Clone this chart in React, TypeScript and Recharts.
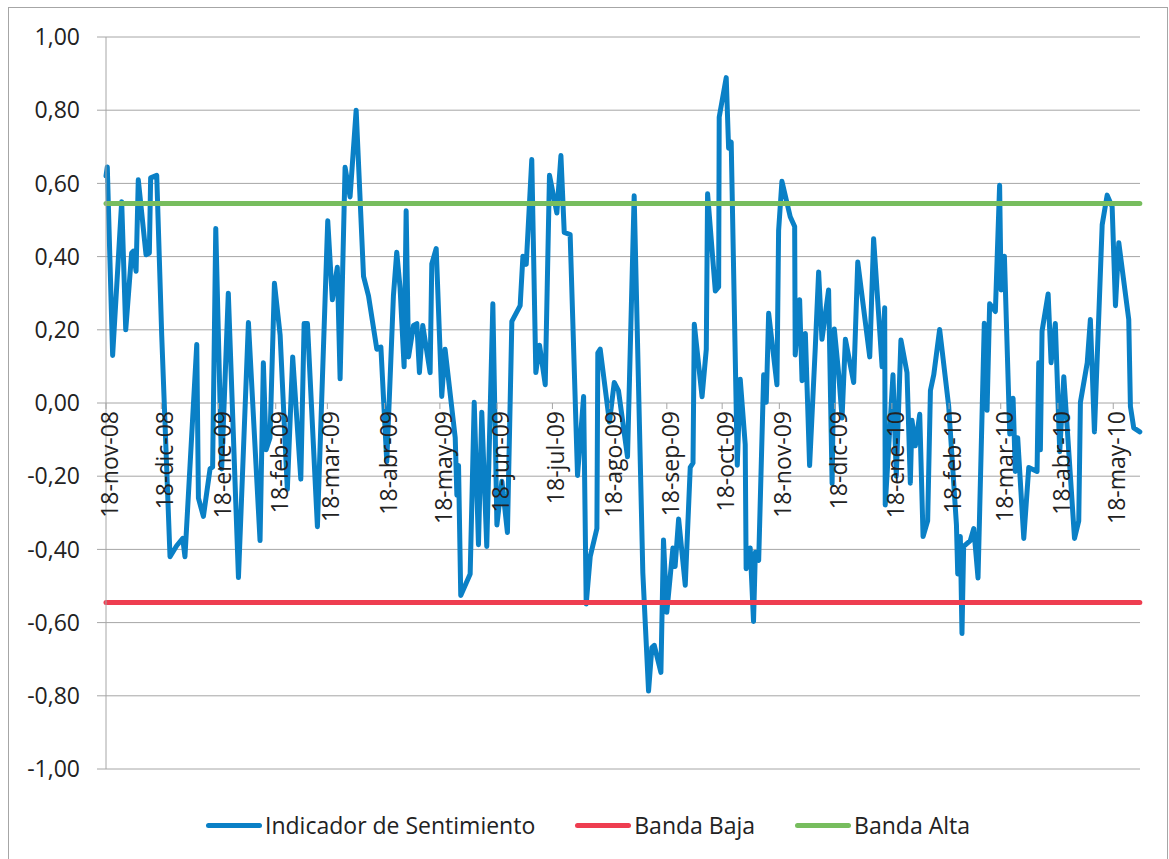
import React from 'react';
import { LineChart, Line, XAxis, YAxis, CartesianGrid, Legend, ReferenceDot } from 'recharts';

// ---- Data ----
const sentimentDays = [
  0, 0.7, 3.6, 8.5, 10.7, 13.9, 14.8, 16.3, 17.5, 21.7, 23.5, 24.2, 27.5, 30.2, 34.7, 38.3, 41.6, 42.8,
  49.2, 50.1, 52.8, 56.4, 57.8, 59.5, 62.7, 66.3, 71.8, 77.2, 83.5, 85.3, 86.8, 88.9, 91.3, 94.4, 98.3,
  101.2, 105.6, 107.4, 109.2, 114.6, 120.2, 122.7, 125.4, 126.9, 129.6, 132.3, 135.6, 139.6, 142.3, 146.8,
  149.0, 152.2, 155.8, 157.6, 159.4, 161.6, 162.7, 164.0, 166.7, 168.5, 169.9, 171.7, 175.7, 176.6, 179.0,
  182.0, 183.8, 189.3, 190.2, 191.1, 192.3, 197.4, 199.6, 201.9, 203.7, 206.4, 209.7, 211.9, 214.6, 217.6,
  220.0, 224.5, 226.0, 227.8, 230.8, 233.0, 235.0, 238.1, 240.4, 244.4, 246.6, 248.4, 251.6, 255.6, 258.9,
  260.3, 262.5, 266.1, 266.6, 267.9, 272.9, 275.5, 277.8, 282.7, 286.3, 291.0, 294.1, 295.9, 297.2, 300.8,
  302.2, 304.0, 307.3, 308.5, 310.4, 314.0, 316.7, 318.2, 318.9, 323.1, 325.4, 326.1, 330.3, 332.1, 332.4,
  336.2, 337.5, 338.9, 342.2, 343.8, 346.5, 347.0, 349.2, 351.0, 352.0, 353.8, 356.5, 357.9, 359.2, 363.7,
  364.6, 366.4, 370.9, 373.3, 373.6, 376.0, 377.3, 379.1, 381.4, 384.5, 386.3, 388.1, 391.7, 393.6, 394.8,
  397.2, 399.0, 400.8, 405.3, 407.5, 414.0, 416.1, 420.7, 422.1, 422.4, 426.6, 428.4, 430.9, 434.2, 436.0,
  436.9, 438.7, 441.1, 442.9, 445.4, 446.9, 448.7, 451.9, 456.8, 461.0, 461.7, 463.1, 464.0, 464.9, 468.5,
  470.4, 472.7, 476.1, 477.6, 479.0, 482.1, 484.4, 485.2, 487.0, 489.9, 491.7, 492.9, 494.2, 497.5, 500.2,
  504.7, 505.6, 506.5, 507.4, 510.7, 512.3, 514.6, 517.0, 519.2, 525.0, 527.3, 528.2, 531.9, 533.6, 535.8,
  540.0, 542.7, 545.4, 547.2, 549.0, 554.4, 555.3, 557.1, 560.4,
];

const sentimentValues = [
  0.62, 0.645, 0.13, 0.55, 0.2, 0.41, 0.415, 0.36, 0.61, 0.405, 0.41, 0.615, 0.622, 0.185, -0.42, -0.39, -0.37, -0.42,
  0.16, -0.26, -0.31, -0.18, -0.175, 0.477, -0.18, 0.3, -0.477, 0.22, -0.376, 0.11, -0.128, -0.095, 0.327, 0.185, -0.236,
  0.126, -0.208, 0.217, 0.217, -0.338, 0.498, 0.282, 0.371, 0.066, 0.644, 0.563, 0.8, 0.346, 0.293, 0.147,
  0.153, -0.16, 0.293, 0.412, 0.315, 0.099, 0.525, 0.126, 0.212, 0.217, 0.083, 0.212, 0.083, 0.38, 0.422,
  0.018, 0.147, -0.095, -0.252, -0.171, -0.526, -0.467, 0.002, -0.387, -0.025, -0.392, 0.271, -0.333, -0.214, -0.354,
  0.223, 0.266, 0.401, 0.379, 0.665, 0.083, 0.158, 0.05, 0.622, 0.519, 0.676, 0.466, 0.46, -0.198, 0.018,
  -0.549, -0.419, -0.343, 0.137, 0.147, -0.052, 0.056, 0.034, -0.147, 0.566, -0.464, -0.787, -0.668, -0.662, -0.736,
  -0.374, -0.572, -0.396, -0.447, -0.317, -0.498, -0.176, -0.164, 0.215, 0.017, 0.147, 0.572, 0.306, 0.317, 0.781,
  0.889, 0.696, 0.713, -0.17, 0.065, -0.113, -0.453, -0.396, -0.597, -0.408, -0.43, 0.077, 0.002, 0.245, 0.05,
  0.471, 0.606, 0.509, 0.482, 0.131, 0.282, 0.061, 0.19, -0.171, 0.153, 0.358, 0.174, 0.309, -0.22, 0.202,
  0.077, -0.041, 0.174, 0.056, 0.385, 0.126, 0.449, 0.099, 0.26, -0.279, 0.077, -0.2, 0.172, 0.083, -0.219,
  -0.047, -0.117, -0.031, -0.365, -0.322, 0.034, 0.077, 0.201, -0.009, -0.333, -0.467, -0.365, -0.63, -0.392, -0.376,
  -0.343, -0.478, 0.218, -0.02, 0.271, 0.25, 0.595, 0.309, 0.401, -0.085, 0.013, -0.187, -0.095, -0.37, -0.176,
  -0.187, 0.11, -0.128, 0.196, 0.298, 0.11, 0.217, -0.133, 0.072, -0.37, -0.322, 0.002, 0.11, 0.228, -0.079,
  0.487, 0.568, 0.536, 0.266, 0.438, 0.228, -0.009, -0.068, -0.079,
];

const lowBand = -0.545;
const highBand = 0.545;

const tickDays = [0, 30, 61, 92, 120, 151, 181, 212, 242, 273, 304, 334, 365, 395, 426, 457, 485, 516, 546];
const tickLabels = [
  '18-nov-08', '18-dic-08', '18-ene-09', '18-feb-09', '18-mar-09', '18-abr-09', '18-may-09', '18-jun-09',
  '18-jul-09', '18-ago-09', '18-sep-09', '18-oct-09', '18-nov-09', '18-dic-09', '18-ene-10', '18-feb-10',
  '18-mar-10', '18-abr-10', '18-may-10',
];

const yTicks = [-1, -0.8, -0.6, -0.4, -0.2, 0, 0.2, 0.4, 0.6, 0.8, 1];

const seriesNames = ['Indicador de Sentimiento', 'Banda Baja', 'Banda Alta'];
const seriesColors = ['#0a80c6', '#ee3d50', '#77bd5e'];

const data = sentimentDays.map((d, i) => ({
  day: d,
  ind: sentimentValues[i],
  low: lowBand,
  high: highBand,
}));

const FONT = '"Open Sans", sans-serif';
const TEXT = '#222222';
const GRID = '#a6a6a6';

const makeTickShape = (label: string) => (props: any) => {
  const { cx, cy } = props;
  return (
    <g>
      <line x1={cx} y1={cy} x2={cx} y2={cy + 6} stroke={GRID} strokeWidth={1} />
      <text
        x={0}
        y={0}
        transform={`translate(${cx + 12}, ${cy + 8}) rotate(-90)`}
        textAnchor="end"
        fontFamily={FONT}
        fontSize={23}
        fill={TEXT}
      >
        {label}
      </text>
    </g>
  );
};

const LegendContent = (props: any) => {
  const payload = [...(props.payload || [])].sort(
    (a: any, b: any) => seriesNames.indexOf(a.value) - seriesNames.indexOf(b.value)
  );
  return (
    <div
      style={{
        display: 'flex',
        justifyContent: 'center',
        alignItems: 'center',
        height: 30,
        fontFamily: FONT,
        fontSize: 23,
        color: TEXT,
        gap: 40,
      }}
    >
      {payload.map((entry: any) => (
        <div key={entry.value} style={{ display: 'flex', alignItems: 'center' }}>
          <div
            style={{
              width: 56,
              height: 5,
              borderRadius: 3,
              background: entry.color,
              marginRight: 3,
            }}
          />
          <span style={{ lineHeight: '30px', whiteSpace: 'nowrap' }}>{entry.value}</span>
        </div>
      ))}
    </div>
  );
};

export default function App() {
  return (
    <div
      style={{
        position: 'absolute',
        left: 8,
        top: 7,
        width: 1158,
        height: 870,
        border: `1px solid ${GRID}`,
        fontFamily: FONT,
        background: '#fff',
      }}
    >
      <LineChart width={1158} height={851} data={data} margin={{ top: 29, right: 27, left: 0, bottom: 60 }}>
        <CartesianGrid horizontal vertical={false} stroke={GRID} strokeWidth={1} />
        <XAxis type="number" dataKey="day" domain={[0, 560.5]} hide />
        <YAxis
          type="number"
          domain={[-1, 1]}
          ticks={yTicks}
          width={97}
          interval={0}
          axisLine={{ stroke: GRID }}
          tickLine={{ stroke: GRID }}
          tickSize={9}
          tickMargin={17}
          tick={{ fill: TEXT, fontSize: 23, fontFamily: FONT }}
          tickFormatter={(v: number) => v.toFixed(2).replace('.', ',')}
        />
        {tickDays.map((d, i) => (
          <ReferenceDot key={tickLabels[i]} x={d} y={0} r={0} shape={makeTickShape(tickLabels[i])} />
        ))}
        <Line
          type="linear"
          dataKey="ind"
          name={seriesNames[0]}
          stroke={seriesColors[0]}
          strokeWidth={5}
          dot={false}
          strokeLinejoin="round"
          strokeLinecap="round"
          isAnimationActive={false}
        />
        <Line
          type="linear"
          dataKey="low"
          name={seriesNames[1]}
          stroke={seriesColors[1]}
          strokeWidth={5}
          dot={false}
          strokeLinecap="round"
          isAnimationActive={false}
        />
        <Line
          type="linear"
          dataKey="high"
          name={seriesNames[2]}
          stroke={seriesColors[2]}
          strokeWidth={5}
          dot={false}
          strokeLinecap="round"
          isAnimationActive={false}
        />
        <Legend
          verticalAlign="bottom"
          content={LegendContent}
          wrapperStyle={{ top: 802, bottom: 'auto', left: 0, width: 1158 }}
        />
      </LineChart>
    </div>
  );
}
